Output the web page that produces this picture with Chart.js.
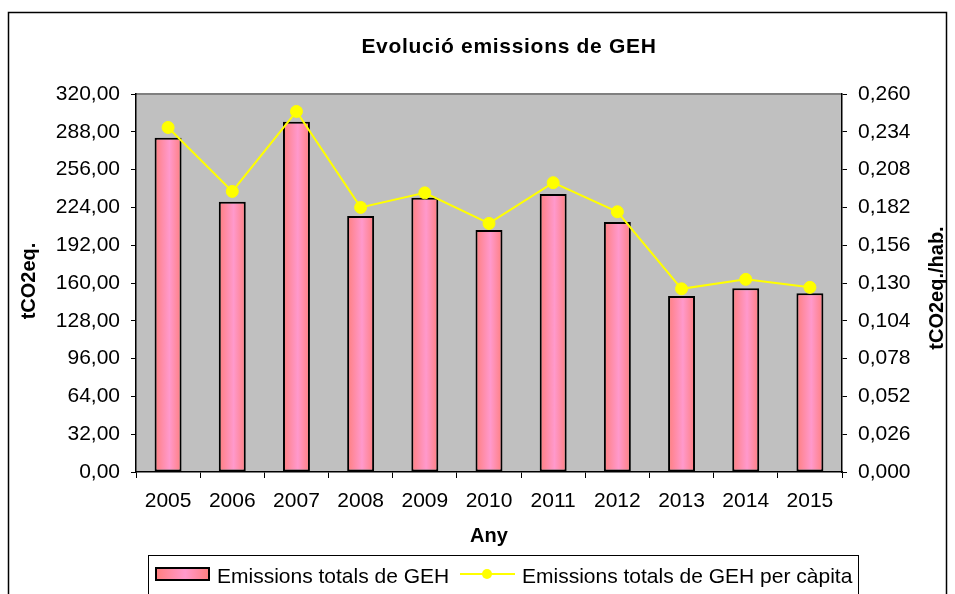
<!DOCTYPE html>
<html lang="ca">
  <head>
    <meta charset="utf-8" />
    <title>Evolució emissions de GEH</title>
    <script src="https://cdn.jsdelivr.net/npm/chart.js@4.4.0/dist/chart.umd.min.js"></script>
    <style>
      html,
      body {
        margin: 0;
        padding: 0;
        background: #fff;
      }
      #wrap {
        position: relative;
        width: 955px;
        height: 594px;
      }
    </style>
  </head>
  <body>
    <div id="wrap"><canvas id="chart" width="955" height="594"></canvas></div>

    <script>
      // --------------- Dades ------------------------------------------------
      const years = ["2005", "2006", "2007", "2008", "2009", "2010", "2011", "2012", "2013", "2014", "2015"];
      const totals = [283.0, 228.8, 296.6, 216.7, 232.2, 204.9, 235.3, 211.6, 149.0, 155.5, 151.3];
      const perCapita = [0.237, 0.193, 0.248, 0.182, 0.192, 0.171, 0.199, 0.179, 0.126, 0.1325, 0.127];
      const leftTicks = [0, 32, 64, 96, 128, 160, 192, 224, 256, 288, 320];
      const rightTicks = [0, 0.026, 0.052, 0.078, 0.104, 0.13, 0.156, 0.182, 0.208, 0.234, 0.26];

      const FONT = "'Liberation Sans', Arial, sans-serif";
      const BAR_FRACTION = 0.42;

      // --------------- Helferfunktionen --------------------------------------
      function pinkGradient(c, x0, x1) {
        const g = c.createLinearGradient(x0, 0, x1, 0);
        g.addColorStop(0, "#ff7f7f");
        g.addColorStop(0.55, "#ff99cc");
        g.addColorStop(1, "#ff7f7f");
        return g;
      }

      function barFill(context) {
        const chart = context.chart;
        const xs = chart.scales.x;
        if (context.type !== "data" || !xs || !xs.width) return "#ff99cc";
        const cx = xs.getPixelForValue(context.dataIndex);
        const half = ((xs.width / years.length) * BAR_FRACTION) / 2;
        return pinkGradient(chart.ctx, cx - half, cx + half);
      }

      // Rahmen, Hintergrund, Titel und Legende
      const decor = {
        id: "decor",
        beforeDraw(chart) {
          const { ctx, chartArea: a } = chart;
          ctx.save();
          ctx.fillStyle = "#fff";
          ctx.fillRect(0, 0, chart.width, chart.height);
          ctx.strokeStyle = "#000";
          ctx.lineWidth = 1.5;
          ctx.strokeRect(8.5, 12.5, 938, 640);
          ctx.fillStyle = "#c0c0c0";
          ctx.fillRect(a.left, a.top, a.right - a.left, a.bottom - a.top);
          ctx.strokeStyle = "#808080";
          ctx.lineWidth = 2;
          ctx.beginPath();
          ctx.moveTo(a.left, a.top);
          ctx.lineTo(a.right, a.top);
          ctx.stroke();
          ctx.restore();
        },
        afterDraw(chart) {
          const { ctx, chartArea: a } = chart;
          ctx.save();
          ctx.fillStyle = "#000";

          // Titel
          ctx.font = "bold 21px " + FONT;
          ctx.textAlign = "center";
          ctx.textBaseline = "alphabetic";
          if ("letterSpacing" in ctx) ctx.letterSpacing = "0.7px";
          ctx.fillText("Evolució emissions de GEH", 509, 53);
          if ("letterSpacing" in ctx) ctx.letterSpacing = "0px";

          // Achsentitel
          ctx.font = "bold 20px " + FONT;
          ctx.fillText("Any", (a.left + a.right) / 2, 542);
          ctx.textBaseline = "middle";
          ctx.save();
          ctx.translate(29, (a.top + a.bottom) / 2 - 2);
          ctx.rotate(-Math.PI / 2);
          ctx.fillText("tCO2eq.", 0, 0);
          ctx.restore();
          ctx.save();
          ctx.translate(937, (a.top + a.bottom) / 2 + 5);
          ctx.rotate(-Math.PI / 2);
          ctx.fillText("tCO2eq./hab.", 0, 0);
          ctx.restore();

          // Legende
          ctx.strokeStyle = "#000";
          ctx.lineWidth = 1;
          ctx.strokeRect(148.5, 555.5, 710, 60);

          ctx.fillStyle = pinkGradient(ctx, 156, 209);
          ctx.fillRect(156, 568, 53, 12);
          ctx.lineWidth = 2;
          ctx.strokeRect(156, 568, 53, 12);

          ctx.fillStyle = "#000";
          ctx.font = "21px " + FONT;
          ctx.textAlign = "left";
          ctx.textBaseline = "alphabetic";
          ctx.fillText(chart.data.datasets[1].label, 217, 583);

          ctx.strokeStyle = "#ffff00";
          ctx.lineWidth = 2;
          ctx.beginPath();
          ctx.moveTo(460, 574);
          ctx.lineTo(515, 574);
          ctx.stroke();
          ctx.fillStyle = "#ffff00";
          ctx.beginPath();
          ctx.arc(487, 574, 5, 0, Math.PI * 2);
          ctx.fill();

          ctx.fillStyle = "#000";
          ctx.fillText(chart.data.datasets[0].label, 522, 583);
          ctx.restore();
        },
      };

      // --------------- Diagramm ---------------------------------------------
      const ctx = document.getElementById("chart").getContext("2d");

      new Chart(ctx, {
        type: "bar",
        data: {
          labels: years,
          datasets: [
            {
              type: "line",
              label: "Emissions totals de GEH per càpita",
              data: perCapita,
              yAxisID: "y1",
              order: 0,
              borderColor: "#ffff00",
              borderWidth: 2,
              tension: 0,
              pointRadius: 6,
              pointBackgroundColor: "#ffff00",
              pointBorderColor: "#ffff00",
              pointBorderWidth: 1,
            },
            {
              type: "bar",
              label: "Emissions totals de GEH",
              data: totals,
              yAxisID: "y",
              order: 1,
              backgroundColor: barFill,
              borderColor: "#000",
              borderWidth: 2,
              borderSkipped: false,
              categoryPercentage: 1,
              barPercentage: BAR_FRACTION,
            },
          ],
        },
        options: {
          responsive: false,
          animation: false,
          layout: { padding: { top: 94, left: 0, right: 0, bottom: 0 } },
          plugins: {
            legend: { display: false },
            title: { display: false },
            tooltip: { enabled: false },
          },
          scales: {
            x: {
              offset: true,
              grid: {
                offset: true,
                drawOnChartArea: false,
                tickLength: 6,
                color: "#000",
              },
              border: { color: "#000", width: 1.5 },
              ticks: {
                color: "#000",
                font: { family: FONT, size: 21 },
                padding: 11,
                maxRotation: 0,
                autoSkip: false,
              },
              afterFit: (s) => {
                s.height = 122;
              },
            },
            y: {
              position: "left",
              min: 0,
              max: 320,
              afterBuildTicks: (s) => {
                s.ticks = leftTicks.map((v) => ({ value: v }));
              },
              grid: { drawOnChartArea: false, tickLength: 5, color: "#000" },
              border: { color: "#000", width: 1.5 },
              ticks: {
                color: "#000",
                font: { family: FONT, size: 21 },
                padding: 11,
                callback: (v) => v.toFixed(2).replace(".", ","),
              },
              afterFit: (s) => {
                s.width = 136;
              },
            },
            y1: {
              position: "right",
              min: 0,
              max: 0.26,
              afterBuildTicks: (s) => {
                s.ticks = rightTicks.map((v) => ({ value: v }));
              },
              grid: { drawOnChartArea: false, tickLength: 5, color: "#000" },
              border: { color: "#000", width: 1.5 },
              ticks: {
                color: "#000",
                font: { family: FONT, size: 21 },
                padding: 11,
                callback: (v) => v.toFixed(3).replace(".", ","),
              },
              afterFit: (s) => {
                s.width = 113;
              },
            },
          },
        },
        plugins: [decor],
      });
    </script>
  </body>
</html>
